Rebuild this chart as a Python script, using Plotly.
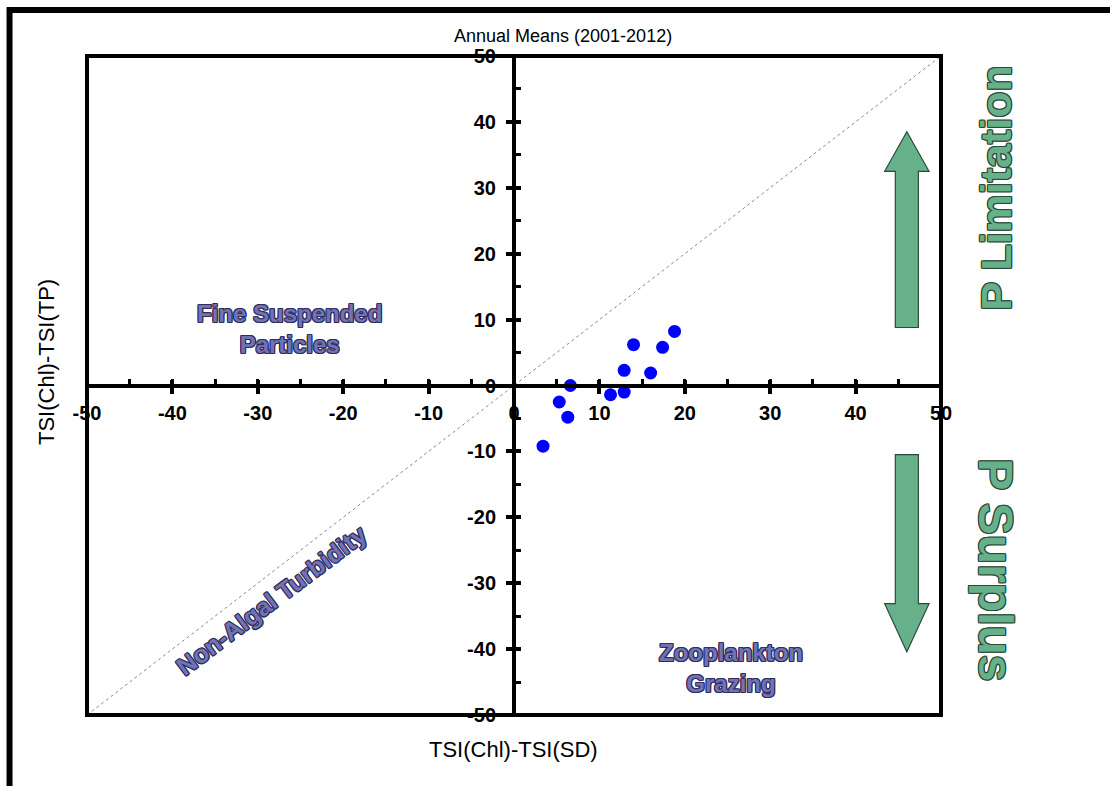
import plotly.graph_objects as go

# Data: annual means (2001-2012)
tsi_chl_minus_sd = [18.8, 14.0, 17.4, 12.9, 16.0, 6.6, 11.3, 12.9, 5.3, 6.3, 3.4]
tsi_chl_minus_tp = [8.2, 6.2, 5.8, 2.3, 1.9, 0.0, -1.4, -1.0, -2.5, -4.8, -9.2]
diag_x = [-50, 50]
diag_y = [-50, 50]
tick_vals = [-50, -40, -30, -20, -10, 0, 10, 20, 30, 40, 50]
tick_text = ["-50", "-40", "-30", "-20", "-10", "0", "10", "20", "30", "40", "50"]

PURPLE = "#7272B8"
PURPLE_EDGE = "#2E2E5A"
GREEN = "#66B08A"
GREEN_EDGE = "#2C4A3A"


def outline(c, w=1):
    return ", ".join(f"{dx}px {dy}px 0 {c}" for dx in (-w, 0, w) for dy in (-w, 0, w) if dx or dy)


fig = go.Figure()
fig.add_trace(go.Scatter(x=diag_x, y=diag_y, mode="lines",
                         line=dict(color="#8a8a8a", width=1, dash="dot"),
                         hoverinfo="skip", showlegend=False))
fig.add_trace(go.Scatter(x=tsi_chl_minus_sd, y=tsi_chl_minus_tp, mode="markers",
                         marker=dict(color="#0000FF", size=13, line=dict(width=0)),
                         showlegend=False))
# invisible trace on overlay axes (for crossing tick marks)
fig.add_trace(go.Scatter(x=[0], y=[0], xaxis="x2", yaxis="y2", mode="markers",
                         marker=dict(opacity=0), hoverinfo="skip", showlegend=False))

FONT = "Liberation Sans, Arial"
tickfont = dict(family=FONT, size=20, color="black", weight="bold")
common = dict(range=[-50, 50], tickmode="array", tickvals=tick_vals, ticktext=tick_text,
              showgrid=False, zeroline=False, showline=True, linecolor="black", linewidth=4,
              anchor="free", position=0.5, fixedrange=True)

fig.update_layout(
    width=1110, height=786,
    margin=dict(l=87, r=169, t=56, b=71),
    paper_bgcolor="white", plot_bgcolor="white",
    showlegend=False,
    xaxis=dict(**common, ticks="outside", ticklen=6, tickwidth=4, tickcolor="black",
               tickfont=tickfont, ticklabelstandoff=2,
               minor=dict(dtick=5, tick0=0, ticks="inside", ticklen=5, tickwidth=3, tickcolor="black")),
    yaxis=dict(**common, ticks="outside", ticklen=6, tickwidth=4, tickcolor="black",
               tickfont=tickfont, ticklabelstandoff=6,
               minor=dict(dtick=5, tick0=0, ticks="inside", ticklen=5, tickwidth=3, tickcolor="black")),
    xaxis2=dict(range=[-50, 50], overlaying="x", anchor="free", position=0.5, showgrid=False,
                zeroline=False, showline=False, ticks="inside", ticklen=6, tickwidth=4,
                tickcolor="black", tickmode="array", tickvals=tick_vals, showticklabels=False,
                fixedrange=True),
    yaxis2=dict(range=[-50, 50], overlaying="y", anchor="free", position=0.5, showgrid=False,
                zeroline=False, showline=False, ticks="inside", ticklen=6, tickwidth=4,
                tickcolor="black", tickmode="array", tickvals=tick_vals, showticklabels=False,
                side="left", fixedrange=True),
)

# plot border and outer frame
shapes = [
    dict(type="rect", xref="paper", yref="paper", x0=0, y0=0, x1=1, y1=1,
         line=dict(color="black", width=4), layer="above"),
    dict(type="line", xref="paper", yref="paper", x0=-0.0937, x1=1.2, y0=1.0698, y1=1.0698,
         line=dict(color="black", width=6)),
    dict(type="line", xref="paper", yref="paper", x0=-0.0907, x1=-0.0907, y0=1.074, y1=-0.12,
         line=dict(color="black", width=6)),
    # up arrow
    dict(type="path", xref="x", yref="y",
         path="M 44.65 8.8 L 44.65 32.5 L 43.4 32.5 L 46 38.5 L 48.6 32.5 L 47.35 32.5 L 47.35 8.8 Z",
         fillcolor=GREEN, line=dict(color=GREEN_EDGE, width=1.2), layer="above"),
    # down arrow
    dict(type="path", xref="x", yref="y",
         path="M 44.65 -10.5 L 44.65 -33.1 L 43.4 -33.1 L 46 -40.4 L 48.6 -33.1 L 47.35 -33.1 L 47.35 -10.5 Z",
         fillcolor=GREEN, line=dict(color=GREEN_EDGE, width=1.2), layer="above"),
]
fig.update_layout(shapes=shapes)

label_font = dict(family=FONT, size=24, color=PURPLE, weight="bold", shadow=outline(PURPLE_EDGE))
diag_font = dict(family=FONT, size=25, color=PURPLE, weight="bold", shadow=outline(PURPLE_EDGE))
plain = dict(family=FONT, color="black")

ann_common = dict(showarrow=False, xanchor="center", yanchor="middle")
annotations = [
    dict(text="Fine Suspended<br>Particles", x=-26.3, y=8.6, xref="x", yref="y",
         font=label_font, **ann_common),
    dict(text="Zooplankton<br>Grazing", x=25.4, y=-42.8, xref="x", yref="y",
         font=label_font, **ann_common),
    dict(text="Non-Algal Turbidity", x=-28.4, y=-32.5, xref="x", yref="y",
         font=diag_font, textangle=-37, **ann_common),
    dict(text="P Limitation", x=1.064, y=0.80, xref="paper", yref="paper",
         font=dict(family=FONT, size=43, color=GREEN, weight="bold", shadow=outline(GREEN_EDGE)),
         textangle=-90, **ann_common),
    dict(text="P Surplus", x=1.064, y=0.22, xref="paper", yref="paper",
         font=dict(family=FONT, size=48, color=GREEN, weight="bold", shadow=outline(GREEN_EDGE)),
         textangle=90, **ann_common),
    dict(text="Annual Means (2001-2012)", x=0.557, y=1.03, xref="paper", yref="paper",
         font=dict(**plain, size=18), **ann_common),
    dict(text="TSI(Chl)-TSI(SD)", x=0.4995, y=-0.0516, xref="paper", yref="paper",
         font=dict(**plain, size=22), **ann_common),
    dict(text="TSI(Chl)-TSI(TP)", x=-0.0468, y=0.5357, xref="paper", yref="paper",
         font=dict(**plain, size=22), textangle=-90, **ann_common),
]
fig.update_layout(annotations=annotations)

fig.write_html("out.html")
